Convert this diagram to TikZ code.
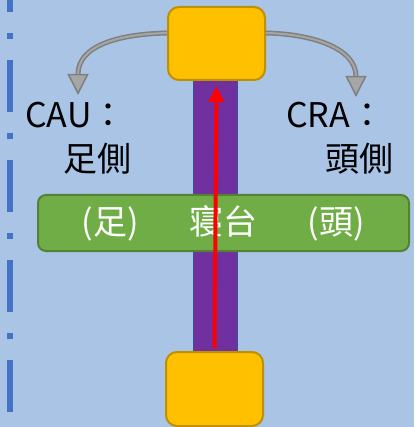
\documentclass[tikz,border=0pt]{standalone}
\usepackage{fontspec}
\setmainfont{Noto Sans CJK TC}
\usetikzlibrary{arrows.meta}
\definecolor{bgblue}{HTML}{AAC4E6}
\definecolor{dashblue}{HTML}{4472C4}
\definecolor{boxyellow}{HTML}{FFC000}
\definecolor{boxedge}{HTML}{BF9000}
\definecolor{barpurple}{HTML}{7030A0}
\definecolor{baredge}{HTML}{2F5597}
\definecolor{bedgreen}{HTML}{70AD47}
\definecolor{bededge}{HTML}{548235}
\definecolor{arcdark}{HTML}{7F7F7F}
\definecolor{arclight}{HTML}{A6A6A6}
\tikzset{
  yellowbox/.style={draw=boxedge, fill=boxyellow, line width=2pt, rounded corners=11pt},
  barbox/.style={draw=baredge, fill=barpurple, line width=1pt},
  bedbox/.style={draw=bededge, fill=bedgreen, line width=2pt, rounded corners=8pt},
  lbl/.style={inner sep=0pt, anchor=base west, font=\fontsize{34}{40}\selectfont},
  bedtxt/.style={inner sep=0pt, anchor=base, text=white, font=\fontsize{34}{40}\selectfont},
  arcline/.style={draw=arcdark, double=arclight, double distance=2pt, line width=1.5pt,
    -{Triangle[width=21pt,length=21pt,fill=arclight]}},
  redarrow/.style={draw=red, line width=4pt, -{Triangle[width=15pt,length=16pt]}},
}
\begin{document}
\begin{tikzpicture}[x=1pt,y=-1pt]
\fill[bgblue] (0,0) rectangle (414,427);
\useasboundingbox (0,0) rectangle (414,427);
% dash-dot line at left
\draw[dashblue, line width=6pt, dash pattern=on 52pt off 21pt on 6pt off 21pt, dash phase=40pt]
  (10,0) -- (10,427);
% purple bar
\path[barbox] (193,80) rectangle (237,352);
\coordinate (bar) at (215,216);
% green bed
\path[bedbox] (38,195) rectangle (409,251);
\node[inner sep=0pt, minimum width=371pt, minimum height=56pt] (bed) at (223.5,223) {};
\node[bedtxt] (foot) at (110,234) {(足)};
\node[bedtxt] (bedname) at (223,234) {寝台};
\node[bedtxt] (head) at (336,234) {(頭)};
% yellow boxes
\node[yellowbox, minimum width=97pt, minimum height=73pt, inner sep=0pt] (topbox) at (216.5,43.5) {};
\node[yellowbox, minimum width=97pt, minimum height=74pt, inner sep=0pt] (botbox) at (214.5,389) {};
% red arrow
\draw[redarrow, shorten <=3pt, shorten >=5pt] (botbox.north) -- (topbox.south);
% gray arcs
\coordinate (cautip) at (78,95);
\coordinate (cratip) at (356,97);
\draw[arcline] ([yshift=10.5pt]topbox.west) .. controls (120,34) and (78,45) .. (cautip);
\draw[arcline] ([yshift=10.5pt]topbox.east) .. controls (312,34) and (356,48) .. (cratip);
% labels
\node[lbl] (cau) at (25,128) {CAU：};
\node[lbl] (foot2) at (63,172) {足側};
\node[lbl] (cra) at (286,128) {CRA：};
\node[lbl] (head2) at (325,172) {頭側};
\end{tikzpicture}
\end{document}
